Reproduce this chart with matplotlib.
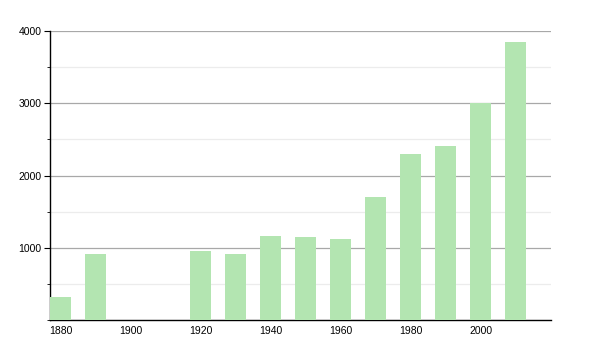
import matplotlib.pyplot as plt
from matplotlib.ticker import MultipleLocator

# Population by census year
years = [1880, 1890, 1920, 1930, 1940, 1950, 1960, 1970, 1980, 1990, 2000, 2010]
population = [320, 920, 950, 920, 1160, 1145, 1120, 1700, 2300, 2405, 3000, 3850]
x_ticks = [1880, 1900, 1920, 1940, 1960, 1980, 2000]
y_ticks = [1000, 2000, 3000, 4000]

plt.rcParams['font.family'] = ['Liberation Sans', 'DejaVu Sans']

fig = plt.figure(figsize=(6, 3.5), dpi=100)
ax = fig.add_axes([50 / 600, 30 / 350, 501 / 600, 289 / 350])

ax.bar(years, population, width=6, color='#b3e5b1', edgecolor='none', zorder=3)

ax.set_xlim(1877, 2020)
ax.set_ylim(0, 4000)
ax.set_xticks(x_ticks)
ax.set_yticks(y_ticks)
ax.yaxis.set_minor_locator(MultipleLocator(500))

ax.grid(axis='y', which='major', color='#a8a8a8', linewidth=0.9, zorder=0)
ax.grid(axis='y', which='minor', color='#ececec', linewidth=0.9, zorder=0)

for side in ['top', 'right']:
    ax.spines[side].set_visible(False)
for side in ['left', 'bottom']:
    ax.spines[side].set_color('black')
    ax.spines[side].set_linewidth(1.0)

ax.tick_params(axis='x', length=0, labelsize=7.5, pad=4)
ax.tick_params(axis='y', which='major', length=4, labelsize=7.5, pad=2)
ax.tick_params(axis='y', which='minor', length=2)

plt.savefig('out.png', dpi=100)
